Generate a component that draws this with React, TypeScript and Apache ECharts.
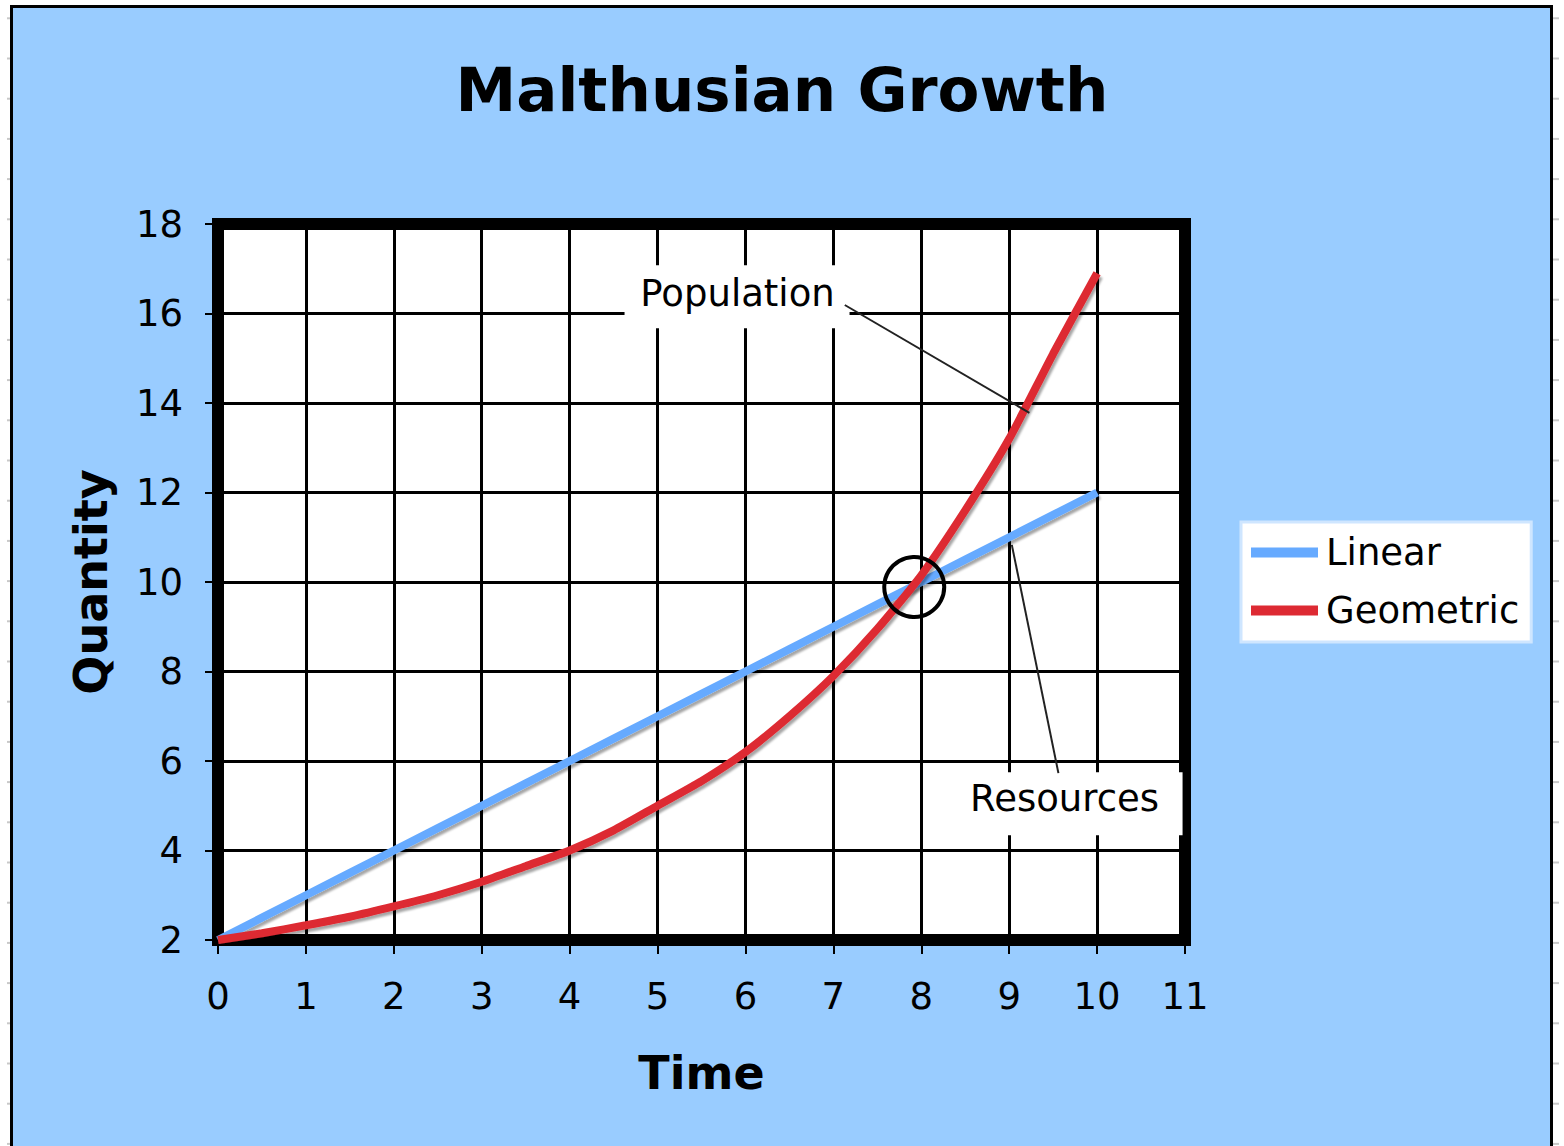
import React, { useEffect, useRef } from "react";
import * as echarts from "echarts";

const timeValues = [0, 0.5, 1, 1.5, 2, 2.5, 3, 3.5, 4, 4.5, 5, 5.5, 6, 6.5, 7, 7.5, 8, 8.5, 9, 9.5, 10];
const linearValues = [2, 2.5, 3, 3.5, 4, 4.5, 5, 5.5, 6, 6.5, 7, 7.5, 8, 8.5, 9, 9.5, 10, 10.5, 11, 11.5, 12];
const geometricValues = [2, 2.15, 2.33, 2.52, 2.75, 3.0, 3.3, 3.65, 4.0, 4.45, 5.0, 5.55, 6.2, 7.0, 7.9, 8.95, 10.15, 11.6, 13.2, 15.1, 16.9];
const seriesNames = ["Linear", "Geometric"];

// annotation anchors in data coordinates
const populationLabelAt = [5.91, 16.45];
const populationLineFrom = [7.13, 16.19];
const populationLineTo = [9.23, 13.78];
const resourcesLabelAt = [9.63, 5.17];
const resourcesLineFrom = [9.56, 5.73];
const resourcesLineTo = [9.03, 10.83];
const circleAt = [7.92, 9.89];

const FONT = "'DejaVu Sans', Verdana, sans-serif";

export default function App() {
  const ref = useRef<HTMLDivElement>(null);
  useEffect(() => {
    const chart = echarts.init(ref.current!, null, { renderer: "svg" });
    const shadow = {
      shadowColor: "rgba(0,0,0,0.35)",
      shadowBlur: 2,
      shadowOffsetX: 2,
      shadowOffsetY: 3,
    };
    chart.setOption({
      animation: false,
      backgroundColor: "transparent",
      title: {
        text: "Malthusian Growth",
        left: "center",
        top: 54,
        textStyle: { fontFamily: FONT, fontSize: 61, fontWeight: "bold", color: "#000" },
      },
      legend: {
        orient: "vertical",
        left: 1241,
        top: 522,
        backgroundColor: "#fff",
        borderColor: "#cfe6ff",
        borderWidth: 3,
        padding: [12, 12, 13, 10],
        itemWidth: 67,
        itemHeight: 10,
        itemGap: 21,
        icon: "rect",
        data: seriesNames,
        textStyle: { fontFamily: FONT, fontSize: 37, color: "#000", padding: [0, 0, 0, 3] },
      },
      grid: {
        left: 218,
        top: 224,
        right: 379,
        bottom: 206,
        show: true,
        backgroundColor: "#fff",
        borderColor: "#000",
        borderWidth: 12,
      },
      xAxis: {
        type: "value",
        min: 0,
        max: 11,
        interval: 1,
        name: "Time",
        nameLocation: "middle",
        nameGap: 110,
        nameTextStyle: { fontFamily: FONT, fontSize: 46, fontWeight: "bold", color: "#000" },
        axisLine: { show: false },
        axisTick: { show: true, length: 14, lineStyle: { color: "#000", width: 2 } },
        axisLabel: { fontFamily: FONT, fontSize: 37, color: "#000", margin: 38 },
        splitLine: { show: true, lineStyle: { color: "#000", width: 3 } },
      },
      yAxis: {
        type: "value",
        min: 2,
        max: 18,
        interval: 2,
        name: "Quantity",
        nameLocation: "middle",
        nameGap: 104,
        nameTextStyle: { fontFamily: FONT, fontSize: 46, fontWeight: "bold", color: "#000" },
        axisLine: { show: false },
        axisTick: { show: true, length: 13, lineStyle: { color: "#000", width: 2 } },
        axisLabel: { fontFamily: FONT, fontSize: 37, color: "#000", margin: 35 },
        splitLine: { show: true, lineStyle: { color: "#000", width: 3 } },
      },
      series: [
        {
          name: seriesNames[0],
          type: "line",
          color: "#66AAFF",
          showSymbol: false,
          symbol: "none",
          data: timeValues.map((t, i) => [t, linearValues[i]]),
          lineStyle: { width: 8, color: "#66AAFF", ...shadow },
          z: 3,
        },
        {
          name: seriesNames[1],
          type: "line",
          color: "#DD2A33",
          showSymbol: false,
          symbol: "none",
          smooth: 0.2,
          data: timeValues.map((t, i) => [t, geometricValues[i]]),
          lineStyle: { width: 8, color: "#DD2A33", ...shadow },
          z: 4,
        },
      ],
    });

    const px = (p: number[]) => chart.convertToPixel({ gridIndex: 0 }, p) as number[];
    const pl = px(populationLabelAt);
    const pf = px(populationLineFrom);
    const pt = px(populationLineTo);
    const rl = px(resourcesLabelAt);
    const rf = px(resourcesLineFrom);
    const rt = px(resourcesLineTo);
    const cc = px(circleAt);

    const ticks: any[] = [];
    for (let k = 0; k < 29; k++) {
      const y = 18.3 + 40.2 * k;
      ticks.push({ type: "rect", shape: { x: 7, y: y - 1, width: 3, height: 2 }, style: { fill: "#c8c8c8" }, silent: true });
      ticks.push({ type: "rect", shape: { x: 1553, y: y - 1, width: 6, height: 2 }, style: { fill: "#c8c8c8" }, silent: true });
    }

    chart.setOption({
      graphic: {
        elements: [
          ...ticks,
          {
            type: "rect",
            z: 100,
            shape: { x: pl[0] - 113, y: pl[1] - 28, width: 225, height: 63 },
            style: { fill: "#fff" },
          },
          {
            type: "text",
            z: 101,
            x: pl[0],
            y: pl[1],
            style: { text: "Population", font: `37px ${FONT}`, fill: "#000", align: "center", verticalAlign: "middle" },
          },
          {
            type: "line",
            z: 101,
            shape: { x1: pf[0], y1: pf[1], x2: pt[0], y2: pt[1] },
            style: { stroke: "#222", lineWidth: 2 },
          },
          {
            type: "rect",
            z: 100,
            shape: { x: rl[0] - 140, y: rl[1] - 26, width: 258, height: 63 },
            style: { fill: "#fff" },
          },
          {
            type: "text",
            z: 101,
            x: rl[0],
            y: rl[1],
            style: { text: "Resources", font: `37px ${FONT}`, fill: "#000", align: "center", verticalAlign: "middle" },
          },
          {
            type: "line",
            z: 101,
            shape: { x1: rf[0], y1: rf[1], x2: rt[0], y2: rt[1] },
            style: { stroke: "#222", lineWidth: 2 },
          },
          {
            type: "circle",
            z: 101,
            shape: { cx: cc[0], cy: cc[1], r: 30 },
            style: { fill: "none", stroke: "#000", lineWidth: 4 },
          },
        ],
      },
    });
    return () => chart.dispose();
  }, []);
  return (
    <div style={{ position: "absolute", left: 0, top: 0, width: 1564, height: 1146, background: "#fff", overflow: "hidden" }}>
      <div
        style={{
          position: "absolute",
          left: 10,
          top: 5,
          width: 1543,
          height: 1200,
          border: "3px solid #000",
          boxSizing: "border-box",
          background: "#99CCFF",
        }}
      />
      <div ref={ref} style={{ position: "absolute", left: 0, top: 0, width: 1564, height: 1146 }} />
    </div>
  );
}
